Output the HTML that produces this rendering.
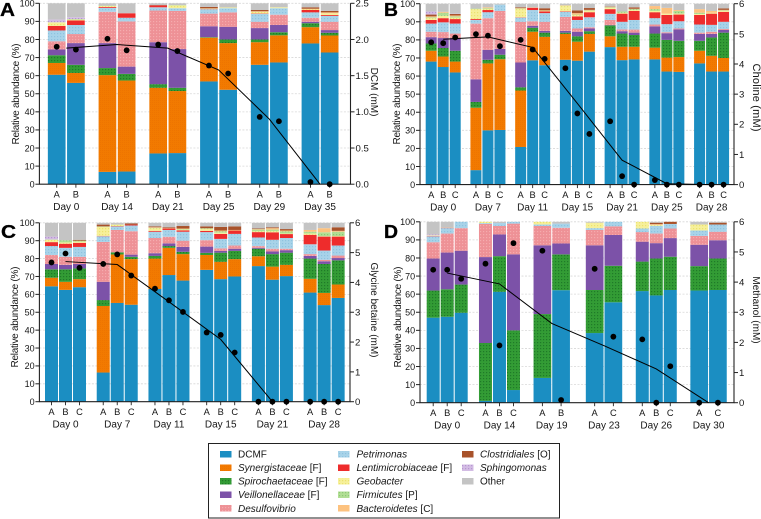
<!DOCTYPE html>
<html lang="en">
<head>
<meta charset="utf-8">
<title>Relative abundance and substrate concentration</title>
<style>
html,body{margin:0;padding:0;background:#fff;width:761px;height:519px;overflow:hidden}
svg{display:block}
text{font-family:"Liberation Sans",sans-serif;font-size:10px;fill:#161616}
.pl{font-size:18px;font-weight:bold;fill:#000;stroke:#000;stroke-width:.3px}
.it{font-style:italic}
.tk{font-size:9px}
.rl{font-size:9.3px}
</style>
</head>
<body>
<svg id="fig" xmlns="http://www.w3.org/2000/svg" width="761" height="519" viewBox="0 0 761 519">
<defs>
<pattern id="pSyn" width="2" height="2" patternUnits="userSpaceOnUse"><rect width="2" height="2" fill="#f27a00"/><rect width="1" height="1" fill="#ee7400"/></pattern>
<pattern id="pSpi" width="3" height="3" patternUnits="userSpaceOnUse"><rect width="3" height="3" fill="#339c35"/><rect width="1.2" height="1.2" fill="#1f7a28"/></pattern>
<pattern id="pDes" width="3" height="3" patternUnits="userSpaceOnUse"><rect width="3" height="3" fill="#ee9196"/><rect width="1.2" height="1.2" fill="#f5abae"/></pattern>
<pattern id="pPet" width="3" height="3" patternUnits="userSpaceOnUse"><rect width="3" height="3" fill="#a8d3e9"/><rect width="1.2" height="1.2" fill="#8fc3df"/></pattern>
<pattern id="pGeo" width="3" height="3" patternUnits="userSpaceOnUse"><rect width="3" height="3" fill="#f6f09a"/><rect width="1.2" height="1.2" fill="#ece26e"/></pattern>
<pattern id="pFir" width="3" height="3" patternUnits="userSpaceOnUse"><rect width="3" height="3" fill="#b2de94"/><rect width="1.2" height="1.2" fill="#8cc874"/></pattern>
<pattern id="pSph" width="3" height="3" patternUnits="userSpaceOnUse"><rect width="3" height="3" fill="#d3bce4"/><rect width="1.2" height="1.2" fill="#b696d0"/></pattern>
</defs>

<g id="plots"></g>

<text class="pl" x="0" y="16" textLength="15" lengthAdjust="spacingAndGlyphs">A</text>
<text class="pl" x="384" y="16" textLength="14" lengthAdjust="spacingAndGlyphs">B</text>
<text class="pl" x="1" y="238" textLength="15" lengthAdjust="spacingAndGlyphs">C</text>
<text class="pl" x="384" y="238" textLength="14" lengthAdjust="spacingAndGlyphs">D</text>

<text transform="translate(19,94) rotate(-90)" text-anchor="middle" textLength="101">Relative abundance (%)</text>
<text transform="translate(400,94) rotate(-90)" text-anchor="middle" textLength="101">Relative abundance (%)</text>
<text transform="translate(18,317) rotate(-90)" text-anchor="middle" textLength="101">Relative abundance (%)</text>
<text transform="translate(401,317) rotate(-90)" text-anchor="middle" textLength="101">Relative abundance (%)</text>
<text transform="translate(371,92) rotate(90)" text-anchor="middle">DCM (mM)</text>
<text transform="translate(753,97.5) rotate(90)" text-anchor="middle" font-size="11" style="font-size:11px" textLength="68">Choline (mM)</text>
<text transform="translate(371,310) rotate(90)" text-anchor="middle">Glycine betaine (mM)</text>
<text transform="translate(753,310) rotate(90)" text-anchor="middle">Methanol (mM)</text>

<g>
<rect x="208.5" y="443.5" width="351" height="74.5" fill="#fff" stroke="#222" stroke-width="1"/>
<g><rect x="220" y="451" width="11.5" height="6.5" fill="#1b8ec2"/><text x="238" y="457.5">DCMF</text></g>
<g><rect x="220" y="464.5" width="11.5" height="6.5" fill="url(#pSyn)"/><text x="238" y="471"><tspan class="it">Synergistaceae</tspan> [F]</text></g>
<g><rect x="220" y="478" width="11.5" height="6.5" fill="url(#pSpi)"/><text x="238" y="484.7"><tspan class="it">Spirochaetaceae</tspan> [F]</text></g>
<g><rect x="220" y="491.5" width="11.5" height="6.5" fill="#7c52a8"/><text x="238" y="498.2"><tspan class="it">Veillonellaceae</tspan> [F]</text></g>
<g><rect x="220" y="505" width="11.5" height="6.5" fill="url(#pDes)"/><text x="238" y="511.8" class="it">Desulfovibrio</text></g>
<g><rect x="338" y="451" width="11.5" height="6.5" fill="url(#pPet)"/><text x="356.5" y="457.5" class="it">Petrimonas</text></g>
<g><rect x="338" y="464.5" width="11.5" height="6.5" fill="#ee2c2c"/><text x="356.5" y="471"><tspan class="it">Lentimicrobiaceae</tspan> [F]</text></g>
<g><rect x="338" y="478" width="11.5" height="6.5" fill="url(#pGeo)"/><text x="356.5" y="484.7" class="it">Geobacter</text></g>
<g><rect x="338" y="491.5" width="11.5" height="6.5" fill="url(#pFir)"/><text x="356.5" y="498.2"><tspan class="it">Firmicutes</tspan> [P]</text></g>
<g><rect x="338" y="505" width="11.5" height="6.5" fill="#fdc27f"/><text x="356.5" y="511.8"><tspan class="it">Bacteroidetes</tspan> [C]</text></g>
<g><rect x="462" y="451" width="11.5" height="6.5" fill="#a8522a"/><text x="480" y="457.5"><tspan class="it">Clostridiales</tspan> [O]</text></g>
<g><rect x="462" y="464.5" width="11.5" height="6.5" fill="url(#pSph)"/><text x="480" y="471" class="it">Sphingomonas</text></g>
<g><rect x="462" y="478" width="11.5" height="6.5" fill="#c4c4c4"/><text x="480" y="484.7">Other</text></g>
</g>
</svg>

<script>
// ---------- Shared ----------
const seriesNames = ['dcmf','synergistaceae','spirochaetaceae','veillonellaceae','desulfovibrio','petrimonas','lentimicrobiaceae','geobacter','firmicutes','bacteroidetes','clostridiales','sphingomonas','other'];
const seriesFills = ['#1b8ec2','url(#pSyn)','url(#pSpi)','#7c52a8','url(#pDes)','url(#pPet)','#ee2c2c','url(#pGeo)','url(#pFir)','#fdc27f','#a8522a','url(#pSph)','#c4c4c4'];
const leftTicks = [0,10,20,30,40,50,60,70,80,90,100];

// ---------- Panel A ----------
const aDays = ['Day 0','Day 14','Day 21','Day 25','Day 29','Day 35'];
const aReplicates = [['A','B'],['A','B'],['A','B'],['A','B'],['A','B'],['A','B']];
const aRightTicks = ['0.0','0.5','1.0','1.5','2.0','2.5'];
const aDcmf = [60.5,56,6.8,7,17,17.2,56.8,52.2,66,67.3,77.8,72.8];
const aSyn = [6.5,5.5,53.5,50.3,36.3,34.3,24.2,25.8,12.5,15,9,9.4];
const aSpi = [4.3,4.5,3.9,3.7,2,1.8,0.3,2,1.5,1.7,2.2,1.5];
const aVei = [3.2,12,13.8,4,23.2,21.4,6,7,6.3,4,0.8,1.5];
const aDes = [4.5,5,17.3,25,17.5,21.1,7,8,3.5,5.7,2.2,4.6];
const aPet = [6,5,2.2,2,1.8,1.5,2.4,2.3,4.4,3.6,3,3.2];
const aLen = [2.5,2.5,0.5,2.5,1,0,0.1,0,0.2,0,1.3,0.5];
const aGeo = [2,0.5,0.5,0,0,1.5,0.2,0.4,0.9,0.5,0.3,1];
const aFir = [0,0.3,0.2,0,0,0.2,0,0,0,0,0,0];
const aBac = [0,0,0,0,0,0,0.2,0,0.3,0,0.4,0.5];
const aClo = [0,0,0,0,0.2,0,0.8,0,0.7,0,0.8,0.8];
const aSph = [1.5,1,0,0,0,0,0,0,0,0,0,0];
const aOth = [9,7.7,1.3,5.5,1,1,2,2.3,3.7,2.2,2.2,4.2];
const aPoints = [1.90,1.86,2.01,1.85,1.93,1.84,1.64,1.53,0.93,0.87,0.03,0];
const aMeans = [1.88,1.93,1.88,1.58,0.9,0];

// ---------- Panel B ----------
const bDays = ['Day 0','Day 7','Day 11','Day 15','Day 21','Day 25','Day 28'];
const bReplicates = [['A','B','C'],['A','B','C'],['A','B','C'],['A','B','C'],['A','B','C'],['A','B','C'],['A','B','C']];
const bRightTicks = ['0','1','2','3','4','5','6'];
const bDcmf = [68,65,62,8,30,30.2,20.8,68.7,66,69,68.5,73.5,76,68.8,69.2,69.2,62.5,62.3,67,62.5,62.5];
const bSyn = [6,5.8,6,34.5,37,39.1,31.2,15.8,15.7,14.3,10.5,9.8,6,7.4,7,6.5,7.7,8.2,7,8.7,7.5];
const bSpi = [4,4.7,6,3.2,2,2.5,1.8,2.2,2.3,0.7,3,1.5,6,7.3,6.5,7.8,9.8,9,5.5,10.1,14];
const bVei = [3.5,5.5,7,12.5,5.5,3.2,13.7,1.1,1,1,2.5,1.5,0.2,1.3,1.3,4,3.7,6.3,3.8,2,1.5];
const bDes = [3,3.3,2.5,30.8,17.5,21,22.5,2.5,5,7.7,1.8,0.7,2.8,1,1.7,1,0.5,0.5,0.7,1.2,0.5];
const bPet = [4.5,5.4,5.5,2,3.3,3.5,2.3,6.2,4.8,2.8,4.7,5.5,3.4,4.2,5.3,3.5,4.5,4,4.5,3.8,4];
const bLen = [2,2.3,2.5,0.5,1.2,0,0.2,1.3,1,0.3,2,2.8,2.6,4.5,5,3.3,5.1,3.7,5.3,6.2,5.5];
const bGeo = [1,1.3,0.8,5.5,0.5,0,4.5,0.2,0.5,2.9,0.7,0.7,0.6,0.5,0.5,0.7,0.7,0.5,0.5,0.5,0.5];
const bFir = [0.5,1.7,0.7,0.3,0.5,0,0.3,0,0,0.2,0.3,0.3,0.4,0.7,0.5,1,0,1.5,0.7,0,0.3];
const bBac = [0.5,0.5,0.5,0,0.5,0,0.3,0,0,0.3,0.8,0.3,0.3,0,0.2,1.7,3.2,0.5,2,1,0.3];
const bClo = [1,0,0.8,0,0,0,0.4,0,1.2,0,1.5,1,0.2,0,0.8,0,0,0,0,0,0.8];
const bSph = [1.7,0,0.2,0,0,0,0,0,0,0,0,0,0,0,0,0,0,0,0,0,0];
const bOth = [4.3,4.5,5.5,2.7,2,0.5,2,2,2.5,0.8,3.7,2.4,1.5,4.3,2,1.3,2.3,3.5,3,4,2.6];
const bPoints = [4.72,4.69,4.88,4.99,4.94,4.59,4.80,4.48,4.17,3.86,2.36,1.68,2.10,0.28,0,0.15,0,0,0,0,0];
const bMeans = [4.82,4.9,4.55,2.69,0.81,0.03,0];

// ---------- Panel C ----------
const cDays = ['Day 0','Day 7','Day 11','Day 15','Day 21','Day 28'];
const cReplicates = [['A','B','C'],['A','B','C'],['A','B','C'],['A','B','C'],['A','B','C'],['A','B','C']];
const cRightTicks = ['0','1','2','3','4','5','6'];
const cDcmf = [64.5,62.5,64,16.3,55.2,54.2,63,70.8,67.7,73.7,68.5,70,75.8,68.2,70.2,61,54,58];
const cSyn = [4.8,4.5,4.5,37.2,27.1,25.5,17,15.2,14.8,8.3,9.7,9.7,5.5,7.3,6.3,7.7,6.8,7.5];
const cSpi = [4.7,7,6,3.3,1.2,1.3,1.5,1,1.3,1.2,5.1,4.6,4.2,7,6.8,11.3,16.2,13.5];
const cVei = [3,2.5,2.5,10.2,0,1.2,1.5,1.5,2.7,3.5,1,1.2,0.5,1.5,1.4,1.5,1.5,1.3];
const cDes = [5,4.5,4,22.3,12.5,13.1,8.5,3.7,3.5,3.6,1.4,1.8,1,1.5,0.8,1,0.8,1.4];
const cPet = [5,5,5.5,3.2,2,3.2,3.5,3.8,5,4.5,5.3,6.5,4.8,5,6,5.5,5.2,5.6];
const cLen = [2.2,2.3,2.3,0.2,0.2,0.5,0.5,0.8,0.8,0.7,2.8,1.9,3,4.2,2.2,5.3,7.8,5];
const cGeo = [1.3,0.7,0.7,5,0.8,0,1.5,0.2,0.4,1,0.7,0.3,0.5,0.6,0.3,0.7,0.2,0.3];
const cFir = [0.2,1.2,0.5,0.2,0,0,0.2,0,0.3,0.3,0.7,0,0.9,0.9,1.2,1,2.2,2.4];
const cBac = [0,0,0,0.1,0,0,0.3,0,0.3,0.2,0.5,0,0.3,0.8,0.5,1,2.3,0.5];
const cClo = [0,0,0.5,1,0,0.6,0.5,0.5,1.4,1,2,2,0.3,0.5,0.8,0,0,2];
const cSph = [1.6,0,0,0,0,0,0,0,0,0,0,0,0,0,0,0,0,0];
const cOth = [7.7,9.8,9.5,1,1,0.4,2,2.5,1.8,2,2.3,2,3.2,2.5,3.5,4,3,2.5];
const cPoints = [4.67,4.97,4.49,4.62,4.94,4.23,3.79,3.40,3.01,2.32,2.24,1.65,0,0,0,0,0,0];
const cMeans = [4.7,4.6,3.35,2.09,0];

// ---------- Panel D ----------
const dDays = ['Day 0','Day 14','Day 19','Day 23','Day 26','Day 30'];
const dReplicates = [['A','B','C'],['A','B','C'],['A','B'],['A','C'],['A','B','C'],['A','C']];
const dRightTicks = ['0','1','2','3','4','5','6'];
const dDcmf = [47,47.5,49.7,1,61.3,7,13.7,62.2,38.5,55.5,61.7,59.3,62.3,62,62.3];
const dSyn = [0,0,0,0,0,0,0,0,0,0,0,0,0,0,0];
const dSpi = [15,15.2,15.6,32,19.7,33,35.3,19.8,23.8,20.2,16.3,20.4,18.4,13.5,17.4];
const dVei = [17.7,20.3,18.7,47.5,12,42,38,6,24.7,17,11,8.5,10.3,11.8,10.1];
const dDes = [9,10.5,12.5,18.3,4.7,17,10.7,8.7,8.5,4.8,5.3,5.3,5.3,4.9,4.7];
const dPet = [3.3,3,3.5,0.5,1.6,1,0.8,2.3,1,2.5,2,4.3,2.5,3,4];
const dLen = [0.2,0.2,0,0,0,0,0,0,0,0,0,0,0,0,0];
const dGeo = [0.3,0.1,0,0.7,0,0,1.5,0,3,0,3.7,0.5,0,3.3,0];
const dFir = [0,0,0,0,0,0,0,0,0,0,0,0,0,0,0];
const dBac = [0,0,0,0,0,0,0,0,0,0,0,0.4,0,0,0];
const dClo = [0,0,0,0,0,0,0,0,0,0,0,0.8,1.2,0,1];
const dSph = [0.5,0,0,0,0,0,0,0,0,0,0,0,0,0,0];
const dOth = [7,3.2,0,0,0.7,0,0,1,0.5,0,0,0.5,0,1.5,0.5];
const dPoints = [4.41,4.41,4.11,4.61,1.90,5.29,5.04,0.09,4.44,2.19,2.10,0,1.21,0,0];
const dMeans = [4.3,3.94,2.63,1.89,1.12,0];

const NS = 'http://www.w3.org/2000/svg';
function mk(tag, attrs, parent){
  const el = document.createElementNS(NS, tag);
  for (const k in attrs) el.setAttribute(k, attrs[k]);
  parent.appendChild(el);
  return el;
}

function drawPanel(p){
  const root = document.getElementById('plots');
  const g = mk('g', {}, root);
  
  
  const yL = v => p.y0 + (p.y100 - p.y0) * v / 100;
  const yR = v => p.y0 + (p.y100 - p.y0) * v / p.rMax;

  // gridlines
  leftTicks.forEach(t => {
    if (t === 0) return;
    const ln = mk('line', {x1:p.L, x2:p.R, y1:yL(t), y2:yL(t), stroke:'#d8d8d8', 'stroke-width':0.8, 'stroke-dasharray':'2 1.5'}, g);
    
    
  });

  // bars
  let idx = 0;
  const barCenters = [];
  const groupCenters = [];
  p.days.forEach((day, gi) => {
    const reps = p.reps[gi];
    const cx = p.c0 + p.gStep * gi;
    groupCenters.push(cx);
    const step = reps.length === 3 ? p.s3 : p.s2;
    const w = reps.length === 3 ? p.w3 : p.w2;
    reps.forEach((rep, ri) => {
      const bx = cx + (ri - (reps.length - 1) / 2) * step;
      barCenters.push(bx);
      let acc = 0;
      p.series.forEach((arr, si) => {
        const v = arr[idx];
        if (v > 0) {
          const r = mk('rect', {x:bx - w / 2, width:w, y:yL(acc + v), height:yL(acc) - yL(acc + v), fill:seriesFills[si]}, g);
          
          
        }
        acc += v;
      });
      const tk = mk('line', {x1:bx, x2:bx, y1:p.y0, y2:p.y0 + 3.5, stroke:'#222', 'stroke-width':0.9}, g);
      
      
      const lab = mk('text', {x:bx, y:p.y0 + 13.5, 'text-anchor':'middle', 'class':'rl'}, g);
      
      
      lab.textContent = rep;
      idx++;
    });
    const dl = mk('text', {x:cx, y:p.y0 + 26, 'text-anchor':'middle'}, g);
    
    
    dl.textContent = day;
  });

  // axes
  const axes = mk('path', {d:'M' + p.L + ' ' + p.y100 + 'V' + p.y0 + 'H' + p.R + 'V' + p.y100, fill:'none', stroke:'#222', 'stroke-width':1.1}, g);
  
  

  leftTicks.forEach(t => {
    const tk = mk('line', {x1:p.L - 4, x2:p.L, y1:yL(t), y2:yL(t), stroke:'#222', 'stroke-width':1}, g);
    
    
    const lb = mk('text', {x:p.L - 4.8, y:yL(t) + 3.3, 'text-anchor':'end', 'class':'tk'}, g);
    
    
    lb.textContent = t;
  });

  p.rTicks.forEach(t => {
    const v = parseFloat(t);
    const tk = mk('line', {x1:p.R, x2:p.R + 4, y1:yR(v), y2:yR(v), stroke:'#222', 'stroke-width':1}, g);
    
    
    const lb = mk('text', {x:p.R + 5, y:yR(v) + 3.4, style:'font-size:9.6px'}, g);
    
    
    lb.textContent = t;
  });

  // concentration mean line
  const linePts = p.means.map((m, i) => groupCenters[i] + ',' + yR(m)).join(' ');
  const pl = mk('polyline', {points:linePts, fill:'none', stroke:'#000', 'stroke-width':1}, g);
  
  

  // concentration points
  p.points.forEach((v, i) => {
    const c = mk('circle', {cx:barCenters[i], cy:yR(v), r:2.9, fill:'#000'}, g);
    
    
  });
}

drawPanel({id:'a', days:aDays, reps:aReplicates, rTicks:aRightTicks, rMax:2.5, series:[aDcmf,aSyn,aSpi,aVei,aDes,aPet,aLen,aGeo,aFir,aBac,aClo,aSph,aOth], points:aPoints, means:aMeans,
  L:39.4, R:350.5, y0:184.2, y100:3.3, c0:66.3, gStep:50.75, w2:17.7, s2:19.2, w3:11, s3:12});
drawPanel({id:'b', days:bDays, reps:bReplicates, rTicks:bRightTicks, rMax:6, series:[bDcmf,bSyn,bSpi,bVei,bDes,bPet,bLen,bGeo,bFir,bBac,bClo,bSph,bOth], points:bPoints, means:bMeans,
  L:420, R:734, y0:184.6, y100:3.7, c0:443.2, gStep:44.73, w2:17.7, s2:19, w3:11, s3:12});
drawPanel({id:'c', days:cDays, reps:cReplicates, rTicks:cRightTicks, rMax:6, series:[cDcmf,cSyn,cSpi,cVei,cDes,cPet,cLen,cGeo,cFir,cBac,cClo,cSph,cOth], points:cPoints, means:cMeans,
  L:39.4, R:350, y0:401.7, y100:222.8, c0:65.5, gStep:51.73, w2:17.7, s2:19, w3:13, s3:14});
drawPanel({id:'d', days:dDays, reps:dReplicates, rTicks:dRightTicks, rMax:6, series:[dDcmf,dSyn,dSpi,dVei,dDes,dPet,dLen,dGeo,dFir,dBac,dClo,dSph,dOth], points:dPoints, means:dMeans,
  L:420, R:734, y0:402.7, y100:221.8, c0:447.2, gStep:52.27, w2:17.7, s2:18.7, w3:13, s3:14});
</script>
</body>
</html>
